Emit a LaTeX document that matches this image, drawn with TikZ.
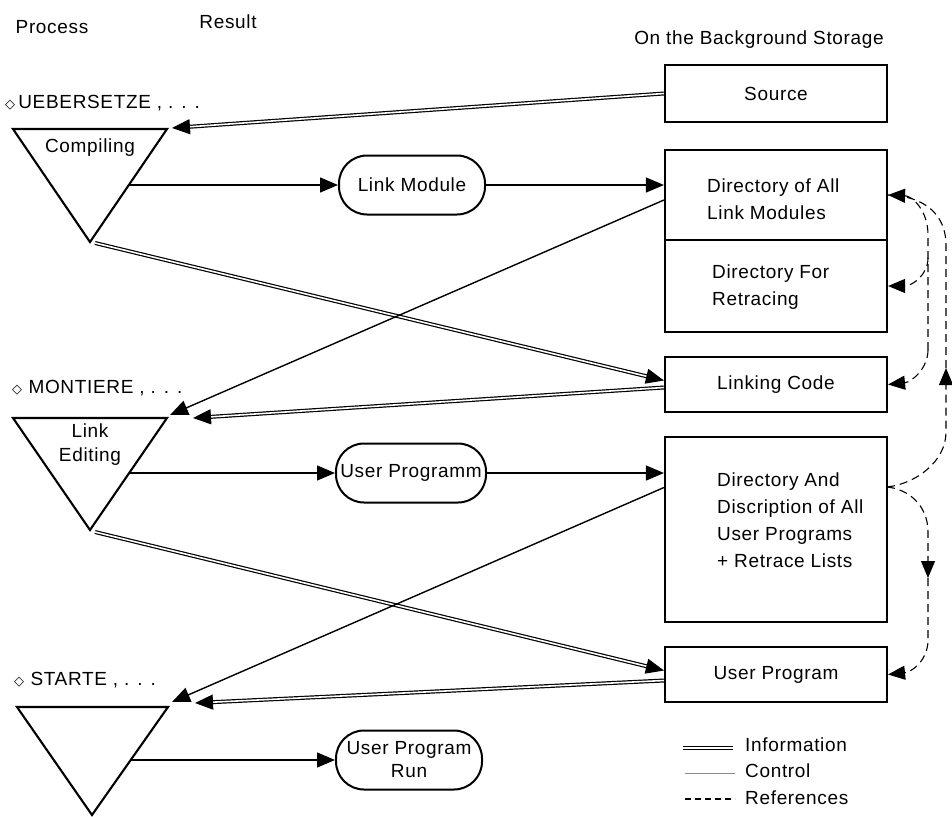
\documentclass[tikz,border=0pt]{standalone}
\usepackage{fontspec}
\setmainfont{Liberation Sans}[LetterSpace=3.5]
\newfontfamily\symfont{DejaVu Sans}
\usetikzlibrary{arrows.meta}

\newcommand{\procmark}{{\symfont\fontsize{13}{13}\selectfont ◇}\,}

\begin{document}
\begin{tikzpicture}[x=1pt, y=-1pt,
    every node/.style={font=\fontsize{19}{27}\selectfont, inner sep=0pt},
    storebox/.style={draw, line width=2.1pt, minimum width=222pt},
    resultbox/.style={draw, rectangle, rounded corners=28pt, line width=2pt,
                      minimum width=146pt, minimum height=59pt, align=center},
    proc/.style={draw, line width=2.1pt, line join=miter},
    boxtext/.style={anchor=west, align=left},
    arrowhd/.style={-{Triangle[length=18pt, width=15pt]}},
    infoline/.style={draw, double, double distance=1.6pt, line width=1.2pt, arrowhd},
    ctlline/.style={draw, line width=1.4pt, arrowhd},
    refline/.style={draw, line width=1.1pt, dash pattern=on 8pt off 5pt},
    refhd/.style={-{Triangle[length=17pt, width=14pt]}},
  ]
  \useasboundingbox (0,0) rectangle (952,816);

  % column heads
  \node (process)    at (52,27)  {Process};
  \node (result)     at (228,22) {Result};
  \node (background) at (759,40) {On the Background Storage};

  % storage
  \node[storebox, minimum height=57pt]  (source)   at (776,93.5)  {Source};
  \node[storebox, minimum height=90pt]  (dirlink)  at (776,195)   {};
  \node[storebox, minimum height=92pt]  (dirretr)  at (776,286)   {};
  \node[storebox, minimum height=55pt]  (linkcode) at (776,384.5) {Linking Code};
  \node[storebox, minimum height=185pt] (diruser)  at (776,529.5) {};
  \node[storebox, minimum height=55pt]  (userprog) at (776,674.5) {User Program};
  \node[boxtext] (dirlinktext) at (707,199) {Directory of All\\Link Modules};
  \node[boxtext] (dirretrtext) at (712,287) {Directory For\\Retracing};
  \node[boxtext] (dirusertext) at (717,520)
    {Directory And\\Discription of All\\User Programs\\+ Retrace Lists};

  % results
  \node[resultbox] (linkmod) at (412,185) {Link Module};
  \node[resultbox, minimum width=150pt] (userpm) at (411,473) {User Programm};
  \node[resultbox] (userrun) at (409,760) {User Program\\[-4pt]Run};

  % processes
  \node[anchor=west] (uebersetze) at (5,103)  {\procmark UEBERSETZE , . . .};
  \node[anchor=west] (montiere)   at (12,388) {\procmark\,MONTIERE , . . .};
  \node[anchor=west] (starte)     at (14,680) {\procmark\,STARTE , . . .};

  \coordinate (t1l) at (13,129);  \coordinate (t1r) at (167,129); \coordinate (t1b) at (90,242);
  \coordinate (t2l) at (13,418);  \coordinate (t2r) at (167,418); \coordinate (t2b) at (90,530);
  \coordinate (t3l) at (17,707);  \coordinate (t3r) at (168,707); \coordinate (t3b) at (92,815);
  \draw[proc] (t1l) -- (t1r) -- (t1b) -- cycle;
  \draw[proc] (t2l) -- (t2r) -- (t2b) -- cycle;
  \draw[proc] (t3l) -- (t3r) -- (t3b) -- cycle;
  \node (compiling) at (90,148) {Compiling};
  \node[align=center] (linkedit) at (90,445) {Link\\[-3pt]Editing};

  \coordinate (t1h) at (128,185);  \coordinate (t1in) at (172,128); \coordinate (t1out) at (95,243);
  \coordinate (t2h) at (129,473);  \coordinate (t2in) at (193,418); \coordinate (t2c) at (170,415);
  \coordinate (t2out) at (95,532);
  \coordinate (t3h) at (131,760);  \coordinate (t3in) at (195,703); \coordinate (t3c) at (172,702);

  % information
  \draw[infoline] (source.west) -- (t1in);
  \draw[infoline] (t1out) -- ([yshift=4pt]linkcode.west);
  \draw[infoline] ([yshift=-3pt]linkcode.west) -- (t2in);
  \draw[infoline] (t2out) -- ([yshift=4pt]userprog.west);
  \draw[infoline] ([yshift=-6pt]userprog.west) -- (t3in);

  % control
  \draw[ctlline] (t1h) -- (linkmod.west);
  \draw[ctlline] (linkmod.east) -- (linkmod.east -| dirlink.west);
  \draw[ctlline] ([yshift=-5pt]dirlink.west) -- (t2c);
  \draw[ctlline] (t2h) -- (userpm.west);
  \draw[ctlline] (userpm.east) -- (userpm.east -| diruser.west);
  \draw[ctlline] ([yshift=42pt]diruser.west) -- (t3c);
  \draw[ctlline] (t3h) -- (userrun.west);

  % references
  \coordinate (ib)  at (928,258);
  \coordinate (uj)  at (887,487);
  \coordinate (upT) at (946,368);
  \coordinate (dnT) at (928,578);
  \draw[refline, refhd] (928,350) .. controls (928,368) and (912,382) .. (linkcode.east);
  \draw[refline, refhd] (928,350) -- (928,235) .. controls (928,210) and (912,196) .. (dirlink.east);
  \draw[refline, refhd] (ib) .. controls (928,275) and (912,286) .. (dirretr.east);
  \draw[refline] (upT) -- (946,245) .. controls (946,215) and (925,196) .. (dirlink.east);
  \draw[refline, refhd] (uj) .. controls (915,484) and (946,462) .. (946,432) -- (upT);
  \draw[refline, refhd] (uj) .. controls (908,489) and (928,505) .. (928,532) -- (dnT);
  \draw[refline, refhd] (dnT) -- (928,640) .. controls (928,660) and (912,672) .. (userprog.east);

  % legend
  \coordinate (lg1a) at (683,748); \coordinate (lg1b) at (733,748);
  \coordinate (lg2a) at (685,773); \coordinate (lg2b) at (735,773);
  \coordinate (lg3a) at (685,799); \coordinate (lg3b) at (735,799);
  \draw[double, double distance=1.6pt, line width=1.1pt] (lg1a) -- (lg1b);
  \draw[line width=0.8pt, black!45] (lg2a) -- (lg2b);
  \draw[refline, dash pattern=on 6pt off 4pt] (lg3a) -- (lg3b);
  \node[anchor=west] (info) at (745,745) {Information};
  \node[anchor=west] (ctl)  at (745,771) {Control};
  \node[anchor=west] (refs) at (745,798) {References};
\end{tikzpicture}
\end{document}
